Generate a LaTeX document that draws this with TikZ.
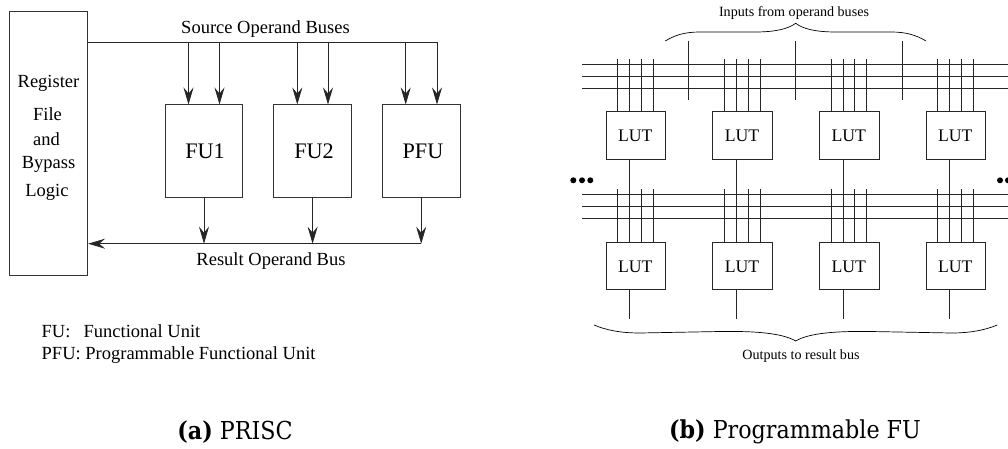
\documentclass[tikz,border=0pt]{standalone}
\usepackage{fontspec}
\setmainfont{Liberation Serif}
\newfontfamily\capfont{DejaVu Serif Condensed}
\usetikzlibrary{arrows.meta}
\tikzset{
  x=1pt,y=-1pt,
  wire/.style={draw=black!85,line width=0.75pt},
  flow/.style={wire,-{Stealth[length=17pt,width=10pt,inset=6pt]}},
  boxa/.style={draw=black!80,line width=0.85pt,minimum width=77.5pt,minimum height=92.5pt,inner sep=0pt},
  boxtxt/.style={inner sep=0pt,font=\fontsize{22.2}{24}\selectfont},
  regbox/.style={draw=black!80,line width=0.85pt,minimum width=78pt,minimum height=264pt,inner sep=0pt},
  lut/.style={draw=black!85,line width=0.75pt,minimum width=59.7pt,minimum height=47.6pt,inner sep=0pt},
  luttxt/.style={inner sep=0pt,font=\fontsize{17.7}{19}\selectfont},
  lbl/.style={inner sep=0pt,font=\fontsize{18.5}{20}\selectfont},
  smalllbl/.style={inner sep=0pt,font=\fontsize{14.1}{16}\selectfont},
  captxt/.style={inner sep=0pt,font=\fontsize{24.7}{28}\selectfont\capfont},
  dotmark/.style={circle,fill=black,inner sep=0pt,minimum size=6pt}
}
\begin{document}
\begin{tikzpicture}
\useasboundingbox (0,0) rectangle (1008,449);
\clip (0,0) rectangle (1008,449);
% left
\node[regbox] (reg) at (48.7,143) {};
\node[lbl] (t1) at (48.5,83) {Register};
\node[lbl] (t2) at (47.5,114) {File};
\node[lbl] (t3) at (46.5,139) {and};
\node[lbl] (t4) at (48.5,164) {Bypass};
\node[lbl] (t5) at (47,192) {Logic};
\node[boxa] (fu1) at (204,150.7) {};
\node[boxa] (fu2) at (312.6,150.7) {};
\node[boxa] (pfu) at (421.2,150.7) {};
\node[boxtxt] (fu1t) at (205,151) {FU1};
\node[boxtxt] (fu2t) at (314,151) {FU2};
\node[boxtxt] (pfut) at (423,151) {PFU};
\coordinate (sbL) at (reg.east |- 0,42);
\coordinate (sbR) at (437,42);
\draw[wire] (sbL) -- (sbR);
\foreach \xx in {188.5,219.5,297.3,328,405.7,437}
  \draw[flow] (\xx,42) -- (\xx,104.5);
\coordinate (rbR) at (pfu.south |- 0,243.7);
\draw[flow] (rbR) -- (reg.east |- rbR);
\foreach \n in {fu1,fu2,pfu}
  \draw[flow] (\n.south) -- (\n.south |- rbR);
\node[lbl] (src) at (265.5,29) {Source Operand Buses};
\node[lbl] (res) at (271,261) {Result Operand Bus};
\node[lbl,anchor=west] (lega) at (41.5,331.5) {FU:};
\node[lbl,anchor=west] (legb) at (83.5,331.5) {Functional Unit};
\node[lbl,anchor=west] (legc) at (41.5,355) {PFU: Programmable Functional Unit};
% right
\foreach \yy in {64.5,76.3,88.3,194.7,206.7,218.7}
  \draw[wire] (582.3,\yy) -- (1008,\yy);
\foreach \xx/\n in {635.8/a,742.5/b,849.2/c,955.8/d}{
  \node[lut] (u\n) at (\xx,135.5) {};
  \node[lut] (l\n) at (\xx,266) {};
  \node[luttxt] at (\xx-.5,136) {LUT};
  \node[luttxt] at (\xx-.5,266.5) {LUT};
  \foreach \d in {-18,-6,5.5,17.5}{
    \draw[wire] (\xx+\d,59) -- (\xx+\d,111.7);
    \draw[wire] (\xx+\d,189) -- (\xx+\d,242.2);
  }
  \draw[wire] (\xx-6,159.3) -- (\xx-6,189);
  \draw[wire] (\xx-6,289.8) -- (\xx-6,319);
}
\foreach \xx in {688.7,795.7,902.3}
  \draw[wire] (\xx,41.3) -- (\xx,99.7);
\draw[line width=0.7pt] (665.3,41) .. controls (675,35) and (685,32) .. (700,32)
  -- (755,32) .. controls (775,32) and (788,29) .. (795.7,23.3)
  .. controls (803,29) and (816,32) .. (836,32) -- (891,32)
  .. controls (906,32) and (916,35) .. (926,41);
\draw[line width=0.7pt] (594,325) .. controls (606,330) and (620,333) .. (640,333)
  -- (720,331.5) .. controls (755,331) and (782,333) .. (795.7,341)
  .. controls (809,333) and (836,331) .. (871,331.5) -- (951,333)
  .. controls (971,333) and (985,330) .. (997.3,325);
\node[smalllbl] (inp) at (794,13) {Inputs from operand buses};
\node[smalllbl] (outp) at (801,356) {Outputs to result bus};
\foreach \xx in {573.3,582,590.3,1000,1008}
  \node[dotmark] at (\xx,180.3) {};
\node[captxt] (capa) at (235,432) {\textbf{(a)} PRISC};
\node[captxt] (capb) at (795,432) {\textbf{(b)} Programmable FU};
\end{tikzpicture}
\end{document}
